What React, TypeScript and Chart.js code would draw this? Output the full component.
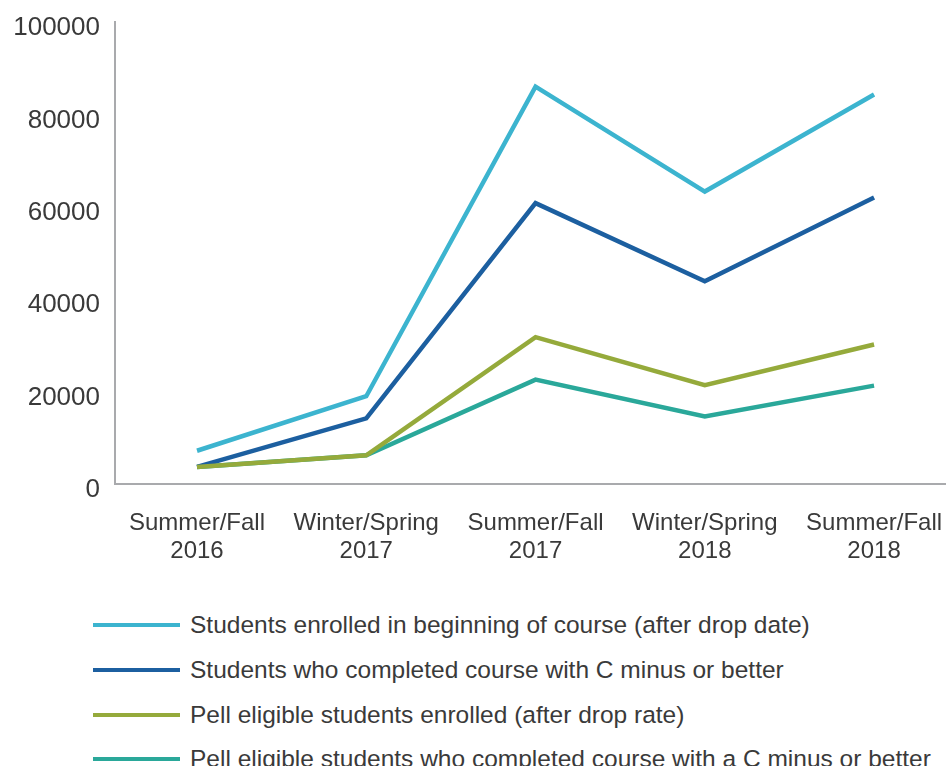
import React, { useEffect, useRef } from "react";
import { Chart, registerables } from "chart.js";

Chart.register(...registerables);

const categories: string[][] = [
  ["Summer/Fall", "2016"],
  ["Winter/Spring", "2017"],
  ["Summer/Fall", "2017"],
  ["Winter/Spring", "2018"],
  ["Summer/Fall", "2018"],
];

const enrolledBeginning = [7200, 19000, 86000, 63300, 84300];
const completedCMinus = [3700, 14200, 60800, 43900, 62000];
const pellEnrolled = [3700, 6200, 31800, 21400, 30200];
const pellCompleted = [3700, 6200, 22600, 14600, 21300];

const seriesNames = [
  "Students enrolled in beginning of course (after drop date)",
  "Students who completed course with C minus or better",
  "Pell eligible students enrolled (after drop rate)",
  "Pell eligible students who completed course with a C minus or better",
];
const seriesColors = ["#3cb4cf", "#1c5fa0", "#95aa3b", "#2aa89a"];
const seriesValues = [enrolledBeginning, completedCMinus, pellEnrolled, pellCompleted];
const drawOrder = [1, 2, 0, 3];

const yTicks = [0, 20000, 40000, 60000, 80000, 100000];

const FONT = "'Liberation Sans', Arial, Helvetica, sans-serif";
const TEXT = "#3a3a3a";

export default function App() {
  const ref = useRef<HTMLCanvasElement | null>(null);

  useEffect(() => {
    if (!ref.current) return;
    const chart = new Chart(ref.current, {
      type: "line",
      data: {
        datasets: seriesValues.map((vals, si) => ({
          label: seriesNames[si],
          data: vals.map((v, i) => ({ x: i, y: v })),
          borderColor: seriesColors[si],
          backgroundColor: seriesColors[si],
          borderWidth: 4.5,
          pointRadius: 0,
          borderJoinStyle: "miter" as const,
          tension: 0,
          order: drawOrder[si],
        })),
      },
      options: {
        animation: false,
        responsive: false,
        maintainAspectRatio: false,
        layout: { padding: { top: 22, right: 0, left: 0, bottom: 0 } },
        plugins: {
          legend: { display: false },
          tooltip: { enabled: false },
        },
        scales: {
          x: {
            type: "linear",
            min: -0.4845,
            max: 4.425,
            grid: { display: false, drawTicks: false },
            border: { display: true, color: "#a9aaad", width: 2 },
            afterBuildTicks: (axis: any) => {
              axis.ticks = categories.map((_, i) => ({ value: i }));
            },
            afterFit: (axis: any) => {
              axis.height = 96;
              axis.paddingLeft = 0;
              axis.paddingRight = 0;
            },
            ticks: {
              autoSkip: false,
              maxRotation: 0,
              padding: 25,
              color: TEXT,
              font: { family: FONT, size: 24, lineHeight: 1.17 },
              callback: (v: any) => categories[Math.round(Number(v))] ?? "",
            },
          },
          y: {
            min: 0,
            max: 100000,
            grid: { display: false, drawTicks: false },
            border: { display: true, color: "#a9aaad", width: 2 },
            afterBuildTicks: (axis: any) => {
              axis.ticks = yTicks.map((v) => ({ value: v }));
            },
            afterFit: (axis: any) => {
              axis.width = 115;
              axis.paddingTop = 0;
              axis.paddingBottom = 0;
            },
            ticks: {
              padding: 15,
              labelOffset: 6,
              color: TEXT,
              font: { family: FONT, size: 26 },
              callback: (v: any) => String(v),
            },
          },
        },
      },
    });
    return () => chart.destroy();
  }, []);

  return (
    <div style={{ position: "absolute", left: 0, top: 0, width: 946, height: 766, background: "#fff", overflow: "hidden" }}>
      <canvas ref={ref} width={946} height={580} style={{ display: "block", width: 946, height: 580 }} />
      <div style={{ position: "absolute", left: 93, top: 603, fontFamily: FONT, color: TEXT, fontSize: 24.5 }}>
        {seriesNames.map((name, i) => (
          <div key={name} style={{ display: "flex", alignItems: "center", height: 44.7, whiteSpace: "nowrap" }}>
            <span style={{ display: "inline-block", width: 87, height: 4, background: seriesColors[i], marginRight: 10 }} />
            <span>{name}</span>
          </div>
        ))}
      </div>
    </div>
  );
}
